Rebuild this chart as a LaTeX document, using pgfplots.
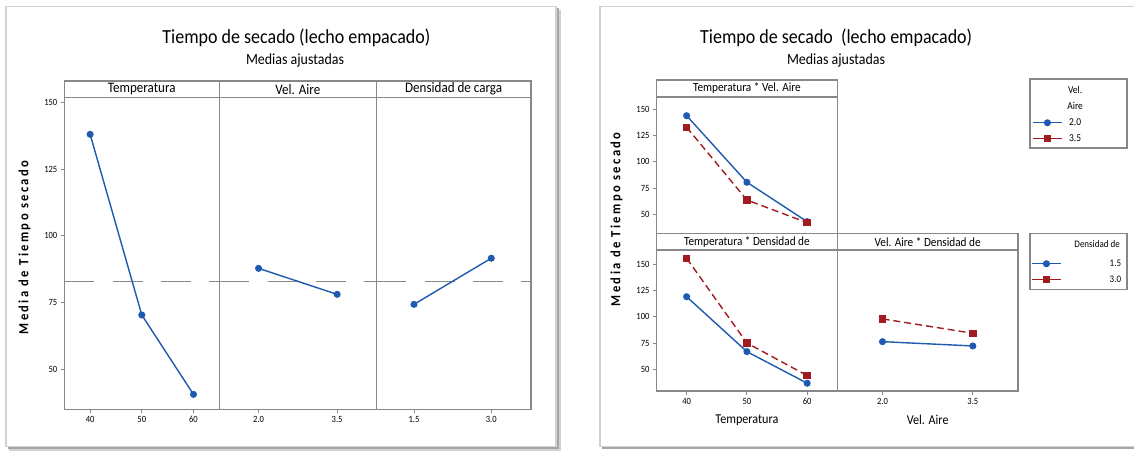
\documentclass[border=0pt]{standalone}
\usepackage{pgfplots}
\pgfplotsset{compat=1.18}
\usepackage{fontspec}
\setmainfont{Carlito}[FakeStretch=0.9]
\newfontfamily\ylabfont{Carlito}[FakeStretch=0.9, LetterSpace=17]
\definecolor{mblue}{RGB}{30,90,175}
\definecolor{mred}{RGB}{160,28,32}
\definecolor{axgray}{RGB}{135,135,135}
\definecolor{framegray}{RGB}{210,210,210}
\pgfplotsset{
  panel/.style={
    scale only axis, anchor=south west, clip=false,
    axis line style={draw=axgray, line width=1.6pt},
    tick style={draw=axgray, line width=0.9pt},
    tick align=outside, major tick length=3.5pt,
    xtick pos=bottom, ytick pos=left,
    ticklabel style={font=\fontsize{9.5}{10}\selectfont},
    /pgf/number format/assume math mode=true,
    legend image code/.code={\draw[##1, solid, mark repeat=2, mark phase=2] plot coordinates {(0pt,0pt) (14.5pt,0pt) (29pt,0pt)};},
  },
  bser/.style={mblue, line width=1.4pt, mark=*, mark size=2.8pt, mark options={solid, fill=mblue}},
  rser/.style={mred, line width=1.4pt, dash pattern=on 7pt off 4pt, mark=square*, mark size=3pt, mark options={solid, fill=mred}},
  meanline/.style={axgray, line width=1.4pt, dash pattern=on 30pt off 18.3pt, forget plot},
}
\newcommand{\strip}[3]{% height, font size, text
  \draw[axgray, line width=1.6pt] (rel axis cs:0,1) rectangle ([yshift=#1]rel axis cs:1,1);
  \node[font=\fontsize{#2}{#2}\selectfont, inner sep=0pt] at ([yshift=#1/2]rel axis cs:0.5,1) {#3};
}
\newcommand{\lc}[1]{\makebox[17pt][c]{#1}}
\newcommand{\lr}[1]{\makebox[56pt][r]{#1}}
\begin{document}
\begin{tikzpicture}[x=1pt,y=1pt]
\path[use as bounding box] (0,0) rectangle (1134,451);
% ---------- frames ----------
\fill[black!18] (9,0.5) rectangle (561,441);
\fill[black!35] (8,2) rectangle (558.5,442.5);
\draw[framegray, line width=1.5pt, fill=white] (6,4.3) rectangle (556,444.3);
\fill[black!35] (602,2) rectangle (1150,442.5);
\draw[framegray, line width=1.5pt, fill=white] (600,4.3) rectangle (1150,444.3);

% ---------- left figure ----------
\node[anchor=base, font=\fontsize{20}{24}\selectfont] at (296.4,407.7) {Tiempo de secado (lecho empacado)};
\node[anchor=base, font=\fontsize{15.5}{18}\selectfont] at (295,387) {Medias ajustadas};
\node[rotate=90, font=\ylabfont\bfseries\fontsize{14}{15}\selectfont] at (24.5,203.5) {Media de Tiempo secado};

\begin{axis}[panel, at={(64.3pt,41.7pt)}, width=155pt, height=312pt,
  xmin=35, xmax=65, ymin=34.9, ymax=152,
  xtick={40,50,60}, ytick={50,75,100,125,150}]
  \addplot[meanline] coordinates {(35,82.8) (65,82.8)};
  \addplot[bser] coordinates {(40,138.1) (50,70.3) (60,40.5)};
  \strip{16.3pt}{14.5}{Temperatura}
\end{axis}
\begin{axis}[panel, at={(219.3pt,41.7pt)}, width=157.1pt, height=312pt,
  xmin=1.25, xmax=4.25, ymin=34.9, ymax=152,
  xtick={2.0,3.5}, xticklabels={2.0,3.5}, ytick=\empty]
  \addplot[meanline] coordinates {(1.25,82.8) (4.25,82.8)};
  \addplot[bser] coordinates {(2.0,87.8) (3.5,78.05)};
  \strip{16.3pt}{14.5}{Vel. Aire}
\end{axis}
\begin{axis}[panel, at={(376.4pt,41.7pt)}, width=154.5pt, height=312pt,
  xmin=0.77, xmax=3.77, ymin=34.9, ymax=152,
  xtick={1.5,3.0}, xticklabels={1.5,3.0}, ytick=\empty]
  \addplot[meanline] coordinates {(0.77,82.8) (3.77,82.8)};
  \addplot[bser] coordinates {(1.5,74.3) (3.0,91.6)};
  \strip{16.3pt}{14.5}{Densidad de carga}
\end{axis}

% ---------- right figure ----------
\node[anchor=base, font=\fontsize{20}{24}\selectfont] at (836.2,407.7) {Tiempo de secado\ \ (lecho empacado)};
\node[anchor=base, font=\fontsize{15.5}{18}\selectfont] at (836,387) {Medias ajustadas};
\node[rotate=90, font=\ylabfont\bfseries\fontsize{14}{15}\selectfont] at (616.5,231.7) {Media de Tiempo secado};

\begin{axis}[panel, at={(656.5pt,217.7pt)}, width=180.8pt, height=136.6pt,
  xmin=35, xmax=65, ymin=31.9, ymax=162,
  xtick=\empty, ytick={50,75,100,125,150},
  legend style={draw=none, fill=none, inner sep=0pt, font=\fontsize{10.5}{12}\selectfont,
    nodes={inner sep=1pt, text height=7pt, text depth=2pt}, row sep=5pt, column sep=3pt,
    at={(axis description cs:2.077,1.085)}, anchor=north west},
  legend cell align=center]
  \addlegendimage{empty legend}\addlegendentry{\lc{Vel.}}
  \addlegendimage{empty legend}\addlegendentry{\lc{Aire}}
  \addplot[bser] coordinates {(40,143.9) (50,80.5) (60,43)};
  \addlegendentry{\lc{2.0}}
  \addplot[rser] coordinates {(40,132.9) (50,63.6) (60,42)};
  \addlegendentry{\lc{3.5}}
  \strip{16.7pt}{12.5}{Temperatura * Vel. Aire}
\end{axis}
\begin{axis}[panel, at={(656.5pt,60pt)}, width=180.8pt, height=141pt,
  xmin=35, xmax=65, ymin=29.3, ymax=163.6,
  xtick={40,50,60}, ytick={50,75,100,125,150},
  xlabel={Temperatura}, xlabel style={font=\fontsize{13.5}{15}\selectfont, at={(axis description cs:0.5,0)}, anchor=center, yshift=-29pt}]
  \addplot[bser] coordinates {(40,119.1) (50,66.8) (60,36.7)};
  \addplot[rser] coordinates {(40,155.7) (50,75) (60,44)};
  \strip{16.7pt}{12.5}{Temperatura * Densidad de}
\end{axis}
\begin{axis}[panel, at={(837.3pt,60pt)}, width=180.7pt, height=141pt,
  xmin=1.25, xmax=4.25, ymin=29.3, ymax=163.6,
  xtick={2.0,3.5}, xticklabels={2.0,3.5}, ytick=\empty,
  xlabel={Vel. Aire}, xlabel style={font=\fontsize{13.5}{15}\selectfont, at={(axis description cs:0.5,0)}, anchor=center, yshift=-29pt},
  legend style={draw=none, fill=none, inner sep=0pt, font=\fontsize{10}{12}\selectfont,
    nodes={inner sep=1pt, text height=7pt, text depth=2pt}, row sep=5pt, column sep=2.5pt,
    at={(axis description cs:1.0720,0.943)}, anchor=north west},
  legend cell align=right]
  \addplot[bser] coordinates {(2.0,76.3) (3.5,72.2)};
  \addlegendentry{\lr{1.5}}
  \addplot[rser] coordinates {(2.0,98) (3.5,84.3)};
  \addlegendentry{\lr{3.0}}
  \strip{16.7pt}{12.5}{Vel. Aire * Densidad de}
\end{axis}
% legend boxes and title
\draw[axgray, line width=1.6pt] (1030,303) rectangle (1127,372);
\draw[axgray, line width=1.6pt] (1030,161.7) rectangle (1127,217.7);
\node[anchor=base east, inner sep=0pt, font=\fontsize{10}{12}\selectfont] at (1120,203.2) {Densidad de};
\end{tikzpicture}
\end{document}
